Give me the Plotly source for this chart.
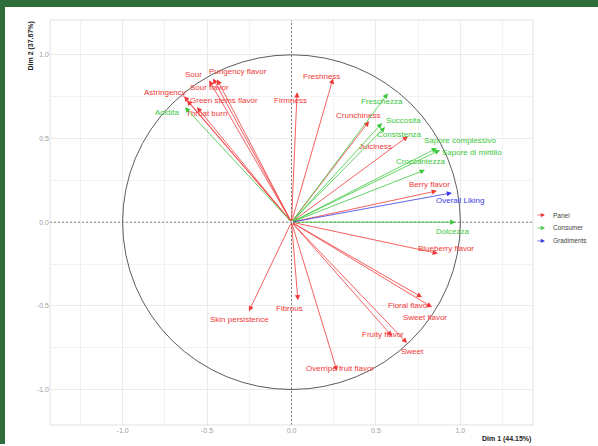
import plotly.graph_objects as go

# ---------------- data ----------------
panel_names = ["Sour", "Sour flavor", "Pungency flavor", "Astringency", "Green stems flavor",
               "Throat burn", "Firmness", "Freshness", "Crunchiness", "Juiciness", "Berry flavor",
               "Blueberry flavor", "Floral flavor", "Sweet flavor", "Fruity flavor", "Sweet",
               "Overripe fruit flavor", "Fibrous", "Skin persistence"]
panel_dim1 = [-0.488, -0.465, -0.441, -0.636, -0.619, -0.560, 0.033, 0.246, 0.459, 0.690, 0.861,
              0.867, 0.773, 0.832, 0.595, 0.684, 0.269, 0.038, -0.252]
panel_dim2 = [0.847, 0.859, 0.853, 0.752, 0.728, 0.687, 0.776, 0.859, 0.603, 0.514, 0.187,
              -0.187, -0.449, -0.508, -0.681, -0.722, -0.889, -0.467, -0.532]

consumer_names = ["Acidita", "Freschezza", "Succosita", "Consistenza", "Sapore complessivo",
                  "Sapore di mirtillo", "Croccantezza", "Dolcezza"]
consumer_dim1 = [-0.631, 0.571, 0.536, 0.554, 0.861, 0.879, 0.790, 0.970]
consumer_dim2 = [0.687, 0.770, 0.592, 0.568, 0.443, 0.431, 0.312, 0.000]

grad_names = ["Overall Liking"]
grad_dim1 = [0.950]
grad_dim2 = [0.175]

group_names = ["Panel", "Consumer", "Gradiments"]
tick_vals = [-1.0, -0.5, 0.0, 0.5, 1.0]
tick_text = ["-1.0", "-0.5", "0.0", "0.5", "1.0"]
x_title = "Dim 1 (44.15%)"
y_title = "Dim 2 (37.67%)"

# ---------------- style ----------------
colors = {"Panel": "#F03838", "Consumer": "#3CC83C", "Gradiments": "#3C3CE6"}
# label offsets in pixels (dx right, dy down) relative to arrow tip
label_off = {
    "Sour": (-16, -6), "Sour flavor": (-3, 9), "Pungency flavor": (21, -8),
    "Astringency": (-19, -4), "Green stems flavor": (37, 0), "Throat burn": (10, 6),
    "Acidita": (-17, 5), "Firmness": (-7, 8), "Freshness": (-12, -2), "Freschezza": (-6, 8),
    "Crunchiness": (-11, -6), "Succosita": (21, -3), "Consistenza": (14, 7),
    "Juiciness": (-33, 10), "Sapore complessivo": (24, -8), "Sapore di mirtillo": (32, 2),
    "Croccantezza": (-4, -8), "Berry flavor": (-7, -6), "Overall Liking": (8, 8),
    "Dolcezza": (-3, 9), "Blueberry flavor": (8, -5), "Floral flavor": (-13, 8),
    "Sweet flavor": (-7, 10), "Fruity flavor": (-9, -2), "Sweet": (5, 8),
    "Overripe fruit flavor": (3, -2), "Fibrous": (-8, 8), "Skin persistence": (-9, 8),
}

W, H = 598, 446
ml, mr, mt, mb = 50, 65, 20, 19
xr = [-1.43, 1.43]
yr = [-1.212, 1.208]
font_fam = "Liberation Sans, Arial, sans-serif"

fig = go.Figure()
# invisible trace to set up axes
fig.add_trace(go.Scatter(x=[0], y=[0], mode="markers", marker=dict(size=1, opacity=0),
                         showlegend=False, hoverinfo="skip"))

annotations = []
groups = [("Panel", panel_names, panel_dim1, panel_dim2),
          ("Consumer", consumer_names, consumer_dim1, consumer_dim2),
          ("Gradiments", grad_names, grad_dim1, grad_dim2)]
for g, names, xs, ys in groups:
    c = colors[g]
    for n, xv, yv in zip(names, xs, ys):
        annotations.append(dict(x=xv, y=yv, ax=0, ay=0, xref="x", yref="y", axref="x", ayref="y",
                                text="", showarrow=True, arrowhead=2, arrowsize=1.3,
                                arrowwidth=0.8, arrowcolor=c, standoff=0))
    for n, xv, yv in zip(names, xs, ys):
        dx, dy = label_off.get(n, (0, -7))
        annotations.append(dict(x=xv, y=yv, xref="x", yref="y", text=n, showarrow=False,
                                xshift=dx, yshift=-dy, font=dict(family=font_fam, size=8, color=c)))

# legend (arrow glyph + label)
plot_w = W - ml - mr
plot_h = H - mt - mb
def px_to_paper_x(px):
    return (px - ml) / plot_w
def px_to_paper_y(py):
    return 1 - (py - mt) / plot_h

leg_y = [216, 229, 242]
for g, ly in zip(group_names, leg_y):
    annotations.append(dict(x=px_to_paper_x(545), y=px_to_paper_y(ly), xref="paper", yref="paper",
                            ax=-9, ay=0, axref="pixel", ayref="pixel",
                            text="", showarrow=True, arrowhead=2, arrowsize=1.2, arrowwidth=0.7,
                            arrowcolor=colors[g], standoff=0))
    annotations.append(dict(x=px_to_paper_x(551), y=px_to_paper_y(ly), xref="paper", yref="paper",
                            text=g, showarrow=False, xanchor="left",
                            font=dict(family=font_fam, size=6.5, color="#444444")))

# axis titles
annotations.append(dict(x=1, y=px_to_paper_y(441), xref="paper", yref="paper", text="<b>" + x_title + "</b>",
                        showarrow=False, xanchor="right", yanchor="middle",
                        font=dict(family=font_fam, size=7, color="#222222")))
annotations.append(dict(x=px_to_paper_x(30), y=1, xref="paper", yref="paper", text="<b>" + y_title + "</b>",
                        showarrow=False, xanchor="center", yanchor="top", textangle=-90,
                        font=dict(family=font_fam, size=7, color="#222222")))

shapes = [
    # unit circle
    dict(type="circle", xref="x", yref="y", x0=-1, y0=-1, x1=1, y1=1,
         line=dict(color="#4A4A4A", width=0.9), layer="above"),
    # dashed axes
    dict(type="line", xref="x", yref="paper", x0=0, x1=0, y0=0, y1=1,
         line=dict(color="#666666", width=0.8, dash="2px,2px"), layer="above"),
    dict(type="line", xref="paper", yref="y", x0=0, x1=1, y0=0, y1=0,
         line=dict(color="#666666", width=0.8, dash="2px,2px"), layer="above"),
    # panel border
    dict(type="rect", xref="paper", yref="paper", x0=0, x1=1, y0=0, y1=1,
         line=dict(color="#D9D9D9", width=0.8), layer="above"),
    # green frame (left and top)
    dict(type="rect", xref="paper", yref="paper", x0=px_to_paper_x(0), x1=px_to_paper_x(5),
         y0=px_to_paper_y(H), y1=px_to_paper_y(0), fillcolor="#2F6E3B", line=dict(width=0), layer="above"),
    dict(type="rect", xref="paper", yref="paper", x0=px_to_paper_x(0), x1=px_to_paper_x(W),
         y0=px_to_paper_y(7), y1=px_to_paper_y(0), fillcolor="#2F6E3B", line=dict(width=0), layer="above"),
]

axis_common = dict(showgrid=True, gridcolor="#EBEBEB", gridwidth=0.8, zeroline=False,
                   tickvals=tick_vals, ticktext=tick_text, ticks="", showline=False,
                   tickfont=dict(family=font_fam, size=7, color="#A0A0A0"),
                   minor=dict(tickvals=[-1.25, -0.75, -0.25, 0.25, 0.75, 1.25], showgrid=True,
                              gridcolor="#F2F2F2", gridwidth=0.6))

fig.update_layout(
    width=W, height=H,
    margin=dict(l=ml, r=mr, t=mt, b=mb),
    paper_bgcolor="white", plot_bgcolor="white",
    xaxis=dict(range=xr, **axis_common),
    yaxis=dict(range=yr, **axis_common),
    annotations=annotations, shapes=shapes, showlegend=False,
)

fig.write_html("out.html")
